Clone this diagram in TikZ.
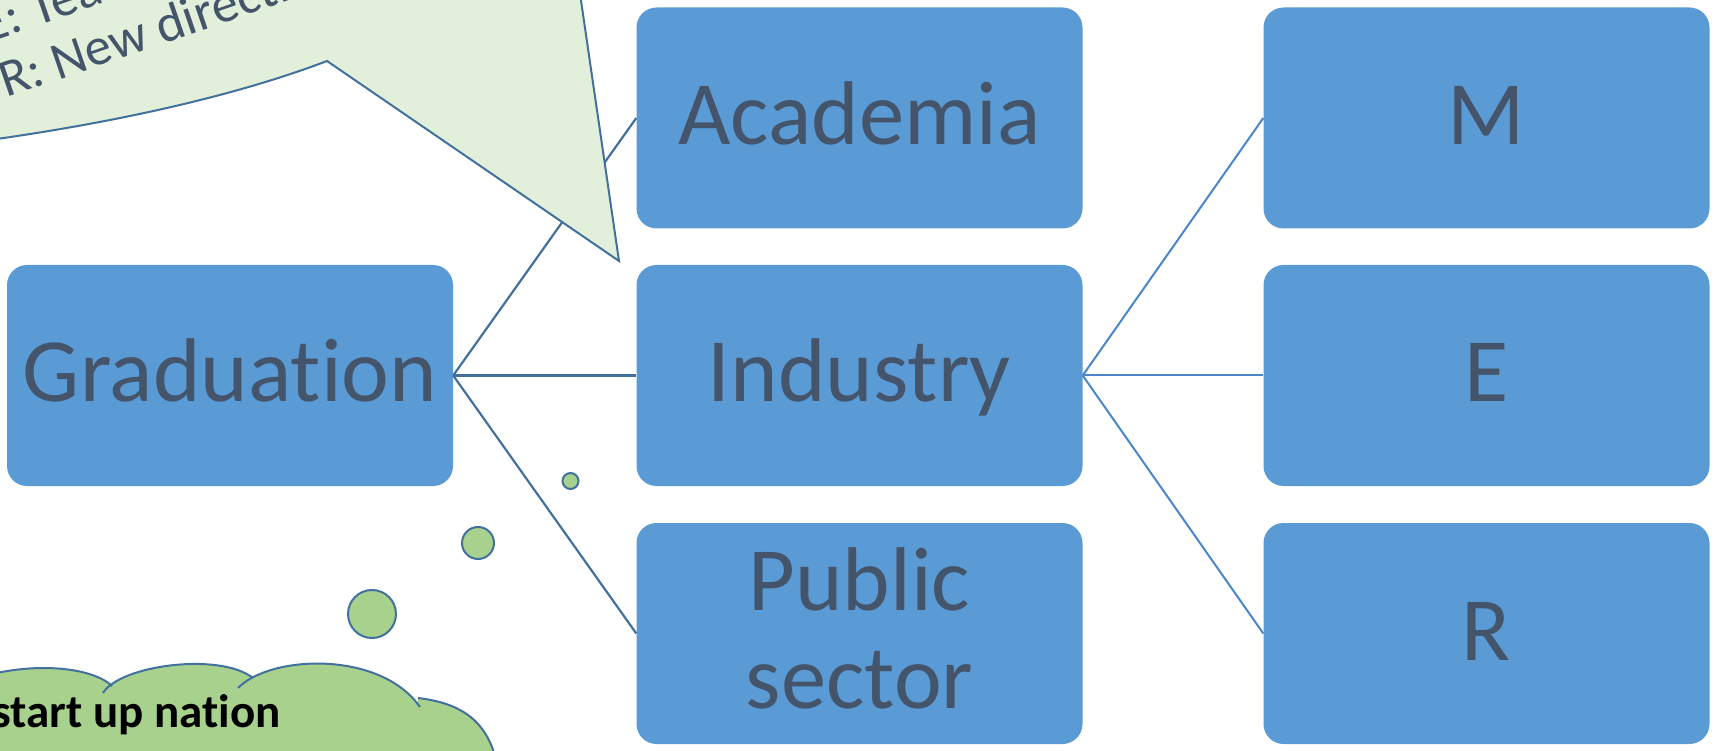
\documentclass[tikz,border=0pt]{standalone}
\usepackage{fontspec}
\setmainfont{Carlito}[Ligatures=CommonOff]
\definecolor{boxfill}{HTML}{5B9BD5}
\definecolor{txt}{HTML}{44546A}
\definecolor{edge}{HTML}{41719C}
\definecolor{lineA}{HTML}{41719C}
\definecolor{lineB}{HTML}{4A86C8}
\definecolor{calfill}{HTML}{E2EFDA}
\definecolor{cloudfill}{HTML}{A9D18E}
\begin{document}
\begin{tikzpicture}[x=1pt,y=-1pt,
  blockbox/.style={draw=none, fill=boxfill, rounded corners=20pt, minimum width=446pt,
    minimum height=221pt, inner sep=0pt, text=txt, font=\fontsize{90.5}{98}\selectfont, align=center},
  oneline/.style={text height=63pt, text depth=10pt},
  boxtext/.style={text=txt, font=\fontsize{90.5}{98}\selectfont, anchor=base, inner sep=0pt},
  linkA/.style={draw=lineA, line width=2.2pt},
  linkB/.style={draw=lineB, line width=2pt},
  bubble/.style={circle, fill=cloudfill, draw=edge, line width=2pt, inner sep=0pt},
  calltext/.style={text=txt, font=\fontsize{53}{64}\selectfont, rotate=19, anchor=base west, inner sep=0pt},
  cloudline/.style={draw=edge, line width=2pt}
]
\useasboundingbox (0,0) rectangle (1717,751);
\clip (0,0) rectangle (1717,751);

% boxes
\node[blockbox, oneline] (grad) at (230,375.5) {Graduation};
\node[blockbox, oneline] (acad) at (859.5,118) {Academia};
\node[blockbox, oneline] (ind) at (859.5,375.5) {Industry};
\node[blockbox] (pub) at (859.5,633.5) {};
\node[boxtext] (pub1) at (859.5,610) {Public};
\node[boxtext] (pub2) at (859.5,708) {sector};
\node[blockbox, oneline] (m) at (1486.5,118) {M};
\node[blockbox, oneline] (e) at (1486.5,375.5) {E};
\node[blockbox, oneline] (r) at (1486.5,633.5) {R};

% connectors
\draw[linkA] (grad.east) -- (acad.west);
\draw[linkA] (grad.east) -- (ind.west);
\draw[linkA] (grad.east) -- (pub.west);
\draw[linkB] (ind.east) -- (m.west);
\draw[linkB] (ind.east) -- (e.west);
\draw[linkB] (ind.east) -- (r.west);

% callout
\filldraw[fill=calfill, draw=edge, line width=2pt]
  (-40,144) .. controls (100,126) and (230,98) .. (327,61) -- (619,261) -- (578,-20) -- (-40,-20) -- cycle;
\node[calltext] (c1) at (-12.8,43.2) {E: Teaching};
\node[calltext] (c2) at (6,98) {R: New directions};

% thought bubbles
\node[bubble, minimum size=16pt] (b1) at (570.5,481) {};
\node[bubble, minimum size=32pt] (b2) at (478,543) {};
\node[bubble, minimum size=48pt] (b3) at (372,614) {};

% cloud
\fill[cloudfill] (-40,684) .. controls (20,660) and (90,665) .. (112,686) -- (112,800) -- (-40,800) -- cycle;
\fill[cloudfill] (103,693) .. controls (120,665) and (220,652) .. (253,678) -- (253,800) -- (103,800) -- cycle;
\fill[cloudfill] (238,688) .. controls (270,655) and (380,650) .. (420,707) -- (420,800) -- (238,800) -- cycle;
\fill[cloudfill] (418,698) .. controls (460,703) and (490,720) .. (498,770) -- (498,800) -- (418,800) -- cycle;
\draw[cloudline] (-40,684) .. controls (20,660) and (90,665) .. (112,686);
\draw[cloudline] (103,693) .. controls (120,665) and (220,652) .. (253,678);
\draw[cloudline] (238,688) .. controls (270,655) and (380,650) .. (420,707);
\draw[cloudline] (418,698) .. controls (460,703) and (490,720) .. (498,770);
\node[font=\bfseries\fontsize{47}{56}\selectfont, anchor=base east, inner sep=0pt] (cloudtxt) at (281,727) {start up nation};
\end{tikzpicture}
\end{document}
